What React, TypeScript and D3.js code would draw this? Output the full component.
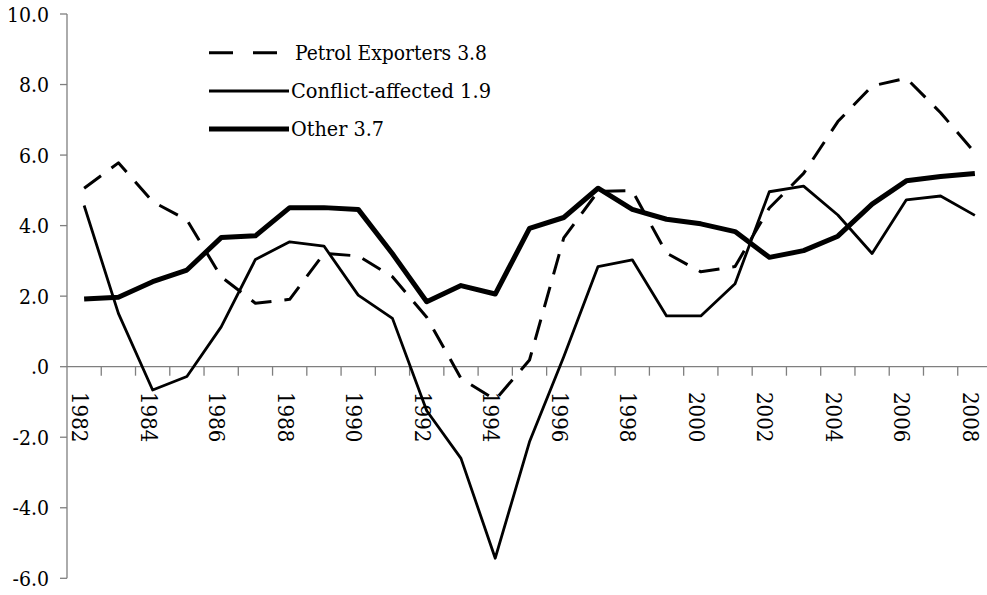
import { useEffect, useRef } from "react"
import * as d3 from "d3"

const years = d3.range(1982, 2009).map(String)

const petrol = [5.06, 5.78, 4.68, 4.16, 2.55, 1.8, 1.91, 3.21, 3.14, 2.55, 1.4, -0.33, -0.94, 0.19, 3.65, 4.97, 4.99, 3.22, 2.69, 2.84, 4.5, 5.48, 6.95, 7.96, 8.18, 7.2, 6.07]
const conflict = [4.57, 1.51, -0.66, -0.28, 1.13, 3.04, 3.54, 3.42, 2.03, 1.37, -1.25, -2.6, -5.43, -2.13, 0.28, 2.84, 3.03, 1.44, 1.44, 2.35, 4.96, 5.12, 4.3, 3.21, 4.73, 4.84, 4.29]
const other = [1.92, 1.97, 2.41, 2.74, 3.66, 3.71, 4.51, 4.51, 4.46, 3.2, 1.84, 2.3, 2.06, 3.92, 4.23, 5.06, 4.46, 4.18, 4.05, 3.83, 3.1, 3.29, 3.7, 4.61, 5.27, 5.39, 5.48]

const seriesNames = ["Petrol Exporters 3.8", "Conflict-affected 1.9", "Other 3.7"]
const yTicks = [10, 8, 6, 4, 2, 0, -2, -4, -6]
const yTickLabels = ["10.0", "8.0", "6.0", "4.0", "2.0", ".0", "-2.0", "-4.0", "-6.0"]

const App = () => {
  const svgRef = useRef<SVGSVGElement>(null)

  useEffect(() => {
    const width = 987
    const height = 595
    const font = "'DejaVu Serif Condensed', 'DejaVu Serif'"

    const svg = d3.select(svgRef.current)
    svg.selectAll("*").remove()
    svg.attr("width", width).attr("height", height).style("font-family", font).style("font-stretch", "condensed")

    const x = d3.scaleBand().domain(years).range([67, 992])
    const y = d3.scaleLinear().domain([-6, 10]).range([578.3, 14])
    const axisColor = "#7f7f7f"

    // y axis
    svg.append("line").attr("x1", 67).attr("x2", 67).attr("y1", y(10)).attr("y2", y(-6)).attr("stroke", axisColor).attr("stroke-width", 1.3)
    svg
      .selectAll(".ytick")
      .data(yTicks)
      .enter()
      .append("line")
      .attr("x1", 60)
      .attr("x2", 67)
      .attr("y1", (d) => y(d))
      .attr("y2", (d) => y(d))
      .attr("stroke", axisColor)
      .attr("stroke-width", 1.3)
    svg
      .selectAll(".ylabel")
      .data(yTicks)
      .enter()
      .append("text")
      .attr("x", 49)
      .attr("y", (d) => y(d))
      .attr("dy", "0.36em")
      .attr("text-anchor", "end")
      .attr("font-size", 21)
      .text((d, i) => yTickLabels[i])

    // x axis at zero
    svg.append("line").attr("x1", 67).attr("x2", 992).attr("y1", y(0)).attr("y2", y(0)).attr("stroke", axisColor).attr("stroke-width", 1.3)
    svg
      .selectAll(".xtick")
      .data(years.slice(1))
      .enter()
      .append("line")
      .attr("x1", (d) => x(d)!)
      .attr("x2", (d) => x(d)!)
      .attr("y1", y(0))
      .attr("y2", y(0) + 9)
      .attr("stroke", axisColor)
      .attr("stroke-width", 1.3)
    svg
      .selectAll(".xlabel")
      .data(years.filter((d, i) => i % 2 === 0))
      .enter()
      .append("text")
      .attr("transform", (d) => `translate(${x(d)! + x.bandwidth() / 2 - 4},392) rotate(90)`)
      .attr("dy", "0.36em")
      .attr("text-anchor", "start")
      .attr("font-size", 22)
      .text((d) => d)

    const line = d3
      .line<number>()
      .x((d, i) => x(years[i])! + x.bandwidth() / 2)
      .y((d) => y(d))

    const styles = [
      { data: petrol, width: 3, dash: "21,13" },
      { data: conflict, width: 2.8, dash: null },
      { data: other, width: 5, dash: null },
    ]

    styles.forEach((s) => {
      svg
        .append("path")
        .datum(s.data)
        .attr("d", line)
        .attr("fill", "none")
        .attr("stroke", "#000")
        .attr("stroke-width", s.width)
        .attr("stroke-linejoin", "round")
        .attr("stroke-dasharray", s.dash)
    })

    // legend
    const legendY = [52.7, 91, 129]
    const legendW = [192, 200, 93]
    const legend = svg
      .selectAll(".legend")
      .data(styles)
      .enter()
      .append("g")
      .attr("transform", (d, i) => `translate(0,${legendY[i]})`)
    legend
      .append("line")
      .attr("x1", 209)
      .attr("x2", (d, i) => (i === 0 ? 278 : 289))
      .attr("stroke", "#000")
      .attr("stroke-width", (d) => d.width)
      .attr("stroke-dasharray", (d, i) => (i === 0 ? "24,20" : null))
    legend
      .append("text")
      .attr("x", (d, i) => (i === 0 ? 295 : 291))
      .attr("y", 7)
      .attr("font-size", 20)
      .attr("textLength", (d, i) => legendW[i])
      .attr("lengthAdjust", "spacingAndGlyphs")
      .text((d, i) => seriesNames[i])
  }, [])

  return (
    <div style={{ position: "absolute", left: 0, top: 0 }}>
      <svg ref={svgRef}></svg>
    </div>
  )
}

export default App
